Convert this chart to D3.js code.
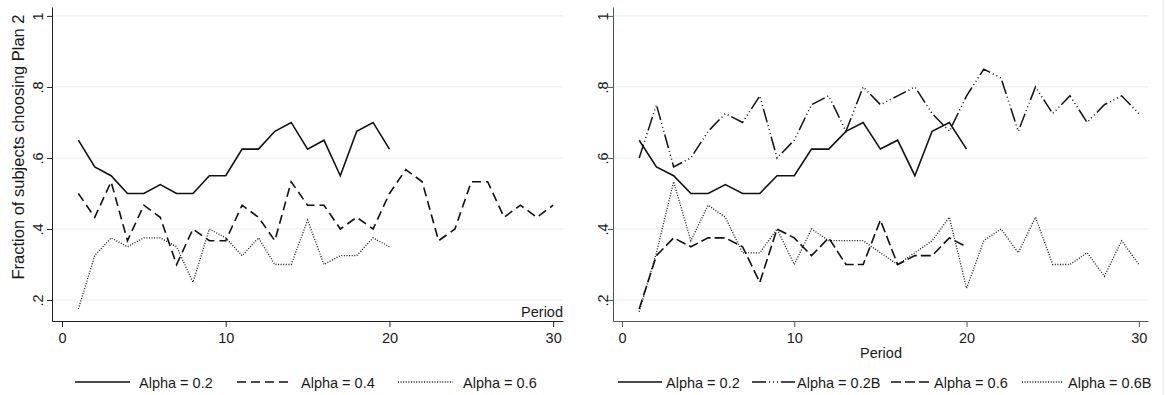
<!DOCTYPE html>
<html>
<head>
<meta charset="utf-8">
<script src="https://cdn.jsdelivr.net/npm/d3@7"></script>
<style>
  body { margin: 0; background: #fff; }
  text { font-family: "Liberation Sans", Arial, sans-serif; fill: #1a1a1a; }
</style>
</head>
<body>
<script>
// periods
var periods30 = d3.range(1, 31);
var periods20 = d3.range(1, 21);

// fraction choosing plan 2
var alpha02 = [0.65, 0.575, 0.55, 0.5, 0.5, 0.525, 0.5, 0.5, 0.55, 0.55,
  0.625, 0.625, 0.675, 0.7, 0.625, 0.65, 0.55, 0.675, 0.7, 0.625];
var alpha04 = [0.5, 0.433, 0.533, 0.367, 0.467, 0.433, 0.3, 0.4, 0.367, 0.367,
  0.467, 0.433, 0.367, 0.533, 0.467, 0.467, 0.4, 0.433, 0.4, 0.5,
  0.567, 0.533, 0.367, 0.4, 0.533, 0.533, 0.433, 0.467, 0.433, 0.467];
var alpha06 = [0.175, 0.325, 0.375, 0.35, 0.375, 0.375, 0.35, 0.25, 0.4, 0.375,
  0.325, 0.375, 0.3, 0.3, 0.425, 0.3, 0.325, 0.325, 0.375, 0.35];
var alpha02B = [0.6, 0.75, 0.575, 0.6, 0.675, 0.725, 0.7, 0.775, 0.6, 0.65,
  0.75, 0.775, 0.675, 0.8, 0.75, 0.775, 0.8, 0.725, 0.675, 0.775,
  0.85, 0.825, 0.675, 0.8, 0.725, 0.775, 0.7, 0.75, 0.775, 0.725];
var alpha06B = [0.167, 0.333, 0.533, 0.367, 0.467, 0.433, 0.333, 0.333, 0.4, 0.3,
  0.4, 0.367, 0.367, 0.367, 0.333, 0.3, 0.333, 0.367, 0.433, 0.233,
  0.367, 0.4, 0.333, 0.433, 0.3, 0.3, 0.333, 0.267, 0.367, 0.3];

var yTicks = [0.2, 0.4, 0.6, 0.8, 1];
var yTickLabels = ['.2', '.4', '.6', '.8', '1'];
var xTicks = [0, 10, 20, 30];

var styles = {
  solid: { dash: null, width: 1.6, color: '#111' },
  dash: { dash: '9,5', width: 1.6, color: '#111' },
  dot: { dash: '1,1.6', width: 1.3, color: '#111' },
  dash3dot: { dash: '14,3,1,3,1,3,1,3', width: 1.5, color: '#111' },
  longdash: { dash: '10,4', width: 1.6, color: '#111' }
};

var svg = d3.select('body')
  .append('svg')
  .attr('width', 1165)
  .attr('height', 395);

// faint frame edge on the right
svg.append('line')
  .attr('x1', 1163).attr('x2', 1163)
  .attr('y1', 0).attr('y2', 395)
  .attr('stroke', '#e8e8e8');

function panel(opts) {
  var x = d3.scaleLinear().domain(opts.xDomain).range([opts.left, opts.right]);
  var y = d3.scaleLinear().domain([0.141, 1.025]).range([321, 7]);
  var g = svg.append('g');

  // grid
  g.selectAll('.grid')
    .data(yTicks)
    .enter()
    .append('line')
    .attr('x1', opts.left)
    .attr('x2', opts.right)
    .attr('y1', function(d) { return y(d); })
    .attr('y2', function(d) { return y(d); })
    .attr('stroke', '#e4eeef')
    .attr('stroke-width', 1);

  // y axis
  var yAxis = g.append('g')
    .attr('transform', 'translate(' + opts.left + ',0)')
    .call(d3.axisLeft(y)
      .tickValues(yTicks)
      .tickSize(5)
      .tickSizeOuter(0)
      .tickFormat(function(d, i) { return yTickLabels[i]; }));
  yAxis.selectAll('text')
    .attr('font-size', '14.5px')
    .attr('text-anchor', 'middle')
    .attr('x', 0)
    .attr('dy', 0)
    .attr('transform', function() { return 'translate(' + (opts.yLabelX - opts.left) + ',0) rotate(-90) translate(0,5)'; })
    .attr('fill', '#1a1a1a');
  yAxis.selectAll('line, path').attr('stroke', opts.axisColor);

  // x axis
  var xAxis = g.append('g')
    .attr('transform', 'translate(0,321)')
    .call(d3.axisBottom(x)
      .tickValues(xTicks)
      .tickSize(6)
      .tickSizeOuter(0));
  xAxis.selectAll('text')
    .attr('font-size', '14.5px')
    .attr('y', 12)
    .attr('fill', '#1a1a1a');
  xAxis.selectAll('line, path').attr('stroke', opts.axisColor);

  // lines
  opts.series.forEach(function(s) {
    var st = styles[s.style];
    var pts = s.values.map(function(v, i) { return [s.periods[i], v]; });
    g.append('path')
      .datum(pts)
      .attr('fill', 'none')
      .attr('stroke', st.color)
      .attr('stroke-width', st.width)
      .attr('stroke-dasharray', st.dash)
      .attr('stroke-linejoin', 'miter')
      .attr('d', d3.line()
        .x(function(d) { return x(d[0]); })
        .y(function(d) { return y(d[1]); }));
  });

  // legend
  opts.legend.forEach(function(item) {
    var st = styles[item.style];
    g.append('line')
      .attr('x1', item.x1).attr('x2', item.x2)
      .attr('y1', 382).attr('y2', 382)
      .attr('stroke', st.color)
      .attr('stroke-width', st.width)
      .attr('stroke-dasharray', st.dash);
    g.append('text')
      .attr('x', item.tx)
      .attr('y', 388)
      .attr('font-size', '14.5px')
      .text(item.label);
  });

  return { g: g, x: x, y: y };
}

var left = panel({
  left: 52, right: 563, xDomain: [-0.61, 30.6], yLabelX: 38, axisColor: '#222',
  series: [
    { periods: periods20, values: alpha02, style: 'solid' },
    { periods: periods30, values: alpha04, style: 'dash' },
    { periods: periods20, values: alpha06, style: 'dot' }
  ],
  legend: [
    { x1: 75, x2: 130, tx: 139, label: 'Alpha = 0.2', style: 'solid' },
    { x1: 237, x2: 292, tx: 301, label: 'Alpha = 0.4', style: 'dash' },
    { x1: 398, x2: 453, tx: 463, label: 'Alpha = 0.6', style: 'dot' }
  ]
});

left.g.append('text')
  .attr('x', 563)
  .attr('y', 317)
  .attr('text-anchor', 'end')
  .attr('font-size', '14.5px')
  .text('Period');

left.g.append('text')
  .attr('transform', 'translate(24,147) rotate(-90)')
  .attr('text-anchor', 'middle')
  .attr('font-size', '16.5px')
  .text('Fraction of subjects choosing Plan 2');

var right = panel({
  left: 613, right: 1148, xDomain: [-0.52, 30.53], yLabelX: 603, axisColor: '#555',
  series: [
    { periods: periods20, values: alpha02, style: 'solid' },
    { periods: periods30, values: alpha02B, style: 'dash3dot' },
    { periods: periods20, values: alpha06, style: 'longdash' },
    { periods: periods30, values: alpha06B, style: 'dot' }
  ],
  legend: [
    { x1: 618, x2: 662, tx: 666, label: 'Alpha = 0.2', style: 'solid' },
    { x1: 752, x2: 795, tx: 797, label: 'Alpha = 0.2B', style: 'dash3dot' },
    { x1: 891, x2: 933, tx: 934, label: 'Alpha = 0.6', style: 'longdash' },
    { x1: 1022, x2: 1062, tx: 1068, label: 'Alpha = 0.6B', style: 'dot' }
  ]
});

right.g.append('text')
  .attr('x', 881)
  .attr('y', 358)
  .attr('text-anchor', 'middle')
  .attr('font-size', '14.5px')
  .text('Period');
</script>
</body>
</html>
